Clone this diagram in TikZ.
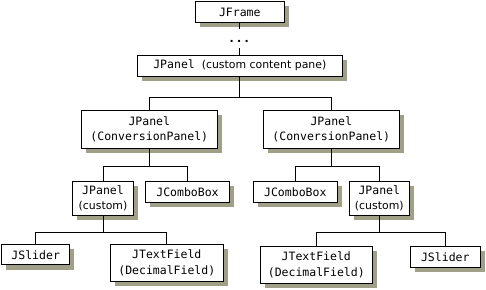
\documentclass[tikz,border=0pt]{standalone}
\usepackage{fontspec}
\setmainfont{DejaVu Sans}
\newfontfamily\monofam{DejaVu Sans Mono}
\usetikzlibrary{shadows}
\definecolor{shc}{RGB}{160,160,136}
\tikzset{
  box/.style={draw=black, line width=1pt, fill=white, inner sep=0pt, align=center,
    font=\monofam\fontsize{11.5}{15.5}\selectfont,
    drop shadow={shadow xshift=4.7pt, shadow yshift=-4.7pt, fill=shc, opacity=1}},
  conn/.style={draw=black, line width=1pt}
}
\newcommand{\propt}[1]{{\rmfamily\fontsize{10.9}{15.5}\selectfont #1}}
\begin{document}
\begin{tikzpicture}[x=1pt,y=-1pt]
\useasboundingbox (0,0) rectangle (486,289);
% nodes
\node[box, minimum width=89pt, minimum height=20.6pt] (jframe) at (239.8,12) {JFrame};
\node[box, minimum width=205pt, minimum height=21pt] (content) at (239.8,65.5) {JPanel \propt{(custom content pane)}};
\node[box, minimum width=136pt, minimum height=38pt] (cpl) at (149.3,129.3) {JPanel\\(ConversionPanel)};
\node[box, minimum width=136pt, minimum height=38pt] (cpr) at (331.3,129.3) {JPanel\\(ConversionPanel)};
\node[box, minimum width=61.4pt, minimum height=33.6pt] (jpcl) at (103,198.5) {JPanel\\\propt{(custom)}};
\node[box, minimum width=84.4pt, minimum height=20.6pt] (jcbl) at (187.5,192) {JComboBox};
\node[box, minimum width=84pt, minimum height=20.6pt] (jcbr) at (295.3,192) {JComboBox};
\node[box, minimum width=60pt, minimum height=33.6pt] (jpcr) at (379.3,198.5) {JPanel\\\propt{(custom)}};
\node[box, minimum width=68pt, minimum height=20.3pt] (jsl) at (35.7,254.8) {JSlider};
\node[box, minimum width=113pt, minimum height=37.4pt] (jtfl) at (166.8,263) {JTextField\\(DecimalField)};
\node[box, minimum width=112pt, minimum height=37pt] (jtfr) at (316.3,264.8) {JTextField\\(DecimalField)};
\node[box, minimum width=70pt, minimum height=21pt] (jsr) at (445.3,256.8) {JSlider};
% dots
\coordinate (d1) at (239.8,29);
\coordinate (d2) at (239.8,48.3);
\node[inner sep=0pt, font=\bfseries\fontsize{11}{11}\selectfont] (dots) at (239.3,41.8) {.\hspace{3.3pt}.\hspace{3.3pt}.};
\draw[conn] (jframe.south) -- (d1);
\draw[conn] (d2) -- (content.north);
% buses
\coordinate (b1) at (239.8,97.3);
\coordinate (b2) at (149.3,166.3);
\coordinate (b3) at (331.3,166.3);
\coordinate (b4) at (103,232.3);
\coordinate (b5) at (379.3,232.3);
\draw[conn] (content.south) -- (b1);
\draw[conn] (cpl.north) |- (b1) -| (cpr.north);
\draw[conn] (cpl.south) -- (b2);
\draw[conn] (jpcl.north) |- (b2) -| (jcbl.north);
\draw[conn] (cpr.south) -- (b3);
\draw[conn] (jcbr.north) |- (b3) -| (jpcr.north);
\draw[conn] (jpcl.south) -- (b4);
\draw[conn] (jsl.north) |- (b4) -| (jtfl.north);
\draw[conn] (jpcr.south) -- (b5);
\draw[conn] (jtfr.north) |- (b5) -| (jsr.north);
\end{tikzpicture}
\end{document}
